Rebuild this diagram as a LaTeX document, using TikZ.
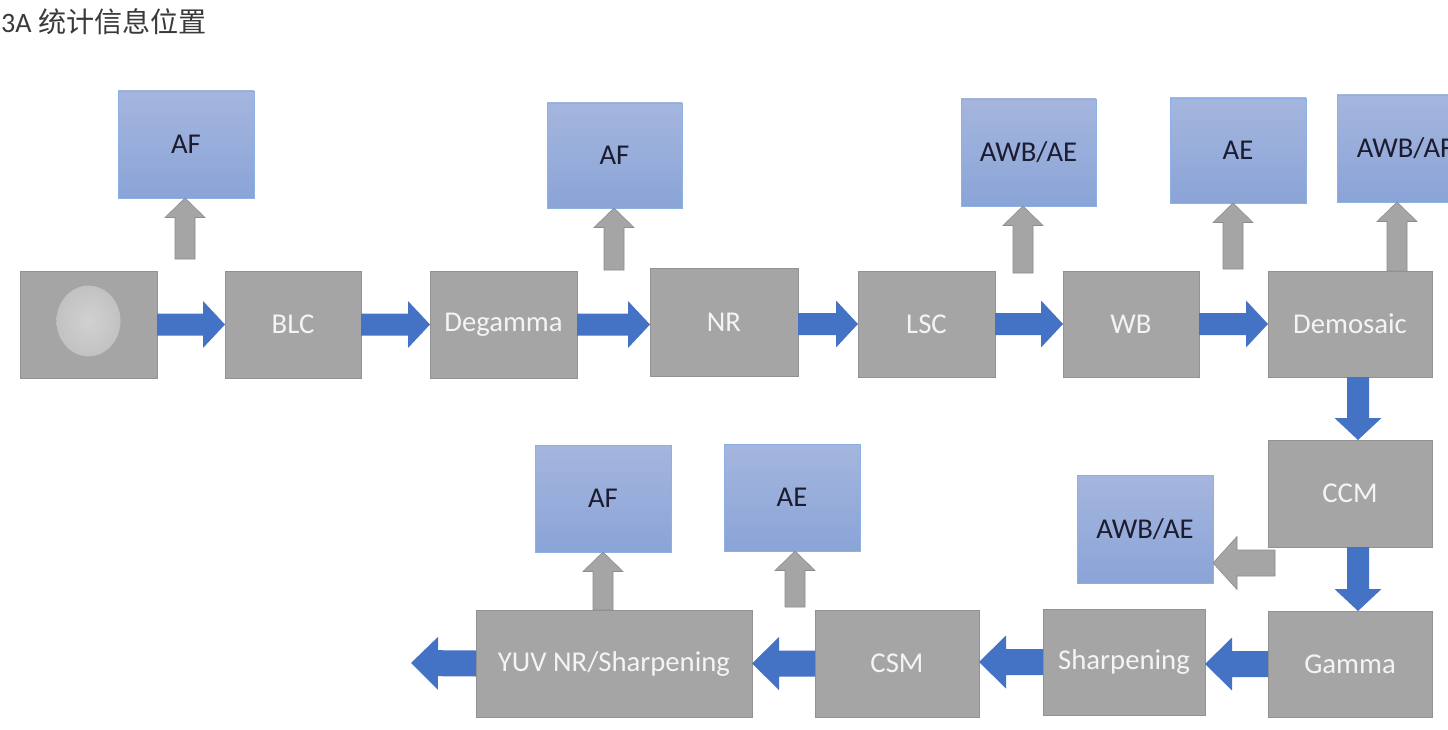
\documentclass[tikz,border=0pt]{standalone}
\usepackage{fontspec}
\setmainfont{Carlito}
\newfontfamily\cjk{Noto Sans CJK SC}
\usetikzlibrary{calc}
\definecolor{boxgray}{HTML}{A5A5A5}
\definecolor{boxedge}{HTML}{929292}
\definecolor{gtext}{HTML}{F4F4F4}
\definecolor{btop}{HTML}{A5B6DE}
\definecolor{bbot}{HTML}{8AA4D7}
\definecolor{bedge}{HTML}{8DB0E4}
\definecolor{btext}{HTML}{1C1C30}
\definecolor{arrblue}{HTML}{4472C4}
\definecolor{arrgray}{HTML}{A5A5A5}
\definecolor{arrgrayedge}{HTML}{8C8C8C}
\definecolor{titlec}{HTML}{3A3A3A}
\newcommand\bx[7]{\node[#6, minimum width={(#4-#2)*0.03cm}, minimum height={(#5-#3)*0.03cm}] (#1) at ({(#2+#4)/2},{(#3+#5)/2}) {#7};}
\newcommand\barrow[6]{%
 \coordinate (ba-s) at (#5);
 \coordinate (ba-e) at (#6);
 \coordinate (ba-b) at ($(ba-e)!#4!(ba-s)$);
 \path[#1] ($(ba-s)!#2!90:(ba-e)$) -- ($(ba-b)!#2!90:(ba-e)$) -- ($(ba-b)!#3!90:(ba-e)$) -- (ba-e) -- ($(ba-b)!#3!-90:(ba-e)$) -- ($(ba-b)!#2!-90:(ba-e)$) -- ($(ba-s)!#2!-90:(ba-e)$) -- cycle;}
\newcommand\bluetop[2]{\barrow{fill=arrblue}{0.33cm}{0.705cm}{0.66cm}{#1}{#2}}
\newcommand\bluebot[2]{\barrow{fill=arrblue}{0.39cm}{0.795cm}{0.81cm}{#1}{#2}}
\newcommand\grayup[2]{\barrow{fill=arrgray,draw=arrgrayedge,line width=0.5pt}{0.3cm}{0.6cm}{0.585cm}{#1}{#2}}
\newcommand\graybig[2]{\barrow{fill=arrgray,draw=arrgrayedge,line width=0.5pt}{0.39cm}{0.795cm}{0.72cm}{#1}{#2}}
\tikzset{
 gbox/.style={draw=boxedge, fill=boxgray, text=gtext, line width=0.8pt, inner sep=0pt, outer sep=0pt, font=\fontsize{24.5}{28}\selectfont},
 bbox/.style={draw=bedge, top color=btop, bottom color=bbot, text=btext, line width=0.8pt, inner sep=0pt, outer sep=0pt, font=\fontsize{24.5}{28}\selectfont},
}
\begin{document}
\begin{tikzpicture}[x=0.03cm,y=-0.03cm]
\useasboundingbox (0,0) rectangle (1448,730);
\clip (0,0) rectangle (1448,730);
\fill[white] (0,0) rectangle (1448,730);
\node[anchor=west, inner sep=0pt, text=titlec, font=\fontsize{24}{28}\selectfont] (title) at (1,22) {3A {\cjk 统计信息位置}};
% gray process boxes
\bx{cam}{20}{271}{157}{378}{gbox}{}
\bx{blc}{225}{271}{361}{378}{gbox}{BLC}
\bx{deg}{430}{271}{577}{378}{gbox}{Degamma}
\bx{nr}{650}{268}{798}{376}{gbox}{NR}
\bx{lsc}{858}{271}{995}{377}{gbox}{LSC}
\bx{wb}{1063}{271}{1199}{377}{gbox}{WB}
\bx{dem}{1268}{271}{1432}{377}{gbox}{Demosaic}
\bx{ccm}{1268}{440}{1432}{547}{gbox}{CCM}
\bx{gam}{1268}{611}{1432}{717}{gbox}{Gamma}
\bx{shp}{1043}{609}{1205}{715}{gbox}{Sharpening}
\bx{csm}{815}{610}{979}{717}{gbox}{CSM}
\bx{yuv}{476}{610}{752}{717}{gbox}{YUV NR/Sharpening}
\path[inner color=black!18, outer color=black!24] ($(cam.center)+(0,-3.5)$) ellipse [x radius=0.96cm, y radius=1.06cm];
% blue statistic boxes
\bx{af1}{118}{91}{254}{198}{bbox}{AF}
\bx{af2}{547}{103}{682}{208}{bbox}{AF}
\bx{awb1}{961}{99}{1096}{206}{bbox}{AWB/AE}
\bx{ae1}{1170}{98}{1306}{203}{bbox}{AE}
\bx{awbaf}{1337}{95}{1473}{202}{bbox}{AWB/AF}
\bx{awb3}{1077}{475}{1213}{583}{bbox}{AWB/AE}
\bx{af3}{535}{445}{671}{552}{bbox}{AF}
\bx{ae3}{724}{444}{860}{551}{bbox}{AE}
% blue pipeline arrows
\bluetop{cam.east}{blc.west}
\bluetop{blc.east}{deg.west}
\bluetop{deg.east}{deg.east -| nr.west}
\bluetop{nr.east |- lsc.west}{lsc.west}
\bluetop{lsc.east}{wb.west}
\bluetop{wb.east}{dem.west}
\bluetop{$(dem.south)+(8,0)$}{$(ccm.north)+(8,0)$}
\bluetop{$(ccm.south)+(8,0)$}{$(gam.north)+(8,0)$}
\bluebot{gam.west}{gam.west -| shp.east}
\bluebot{shp.west}{shp.west -| csm.east}
\bluebot{csm.west}{yuv.east}
\coordinate (out) at (411,663);
\bluebot{yuv.west}{out}
% gray statistic taps
\coordinate (t1) at (185,259);
\coordinate (t2) at (614,270);
\coordinate (t3) at (1023,273);
\coordinate (t4) at (1233,269);
\coordinate (t5) at (1397,271);
\coordinate (t6) at (603,610);
\coordinate (t7) at (795,607);
\coordinate (t8) at (1275,563);
\grayup{t1}{af1.south -| t1}
\grayup{t2}{af2.south -| t2}
\grayup{t3}{awb1.south -| t3}
\grayup{t4}{ae1.south -| t4}
\grayup{t5}{awbaf.south -| t5}
\grayup{t6}{af3.south -| t6}
\grayup{t7}{ae3.south -| t7}
\graybig{t8}{awb3.east |- t8}
\end{tikzpicture}
\end{document}
